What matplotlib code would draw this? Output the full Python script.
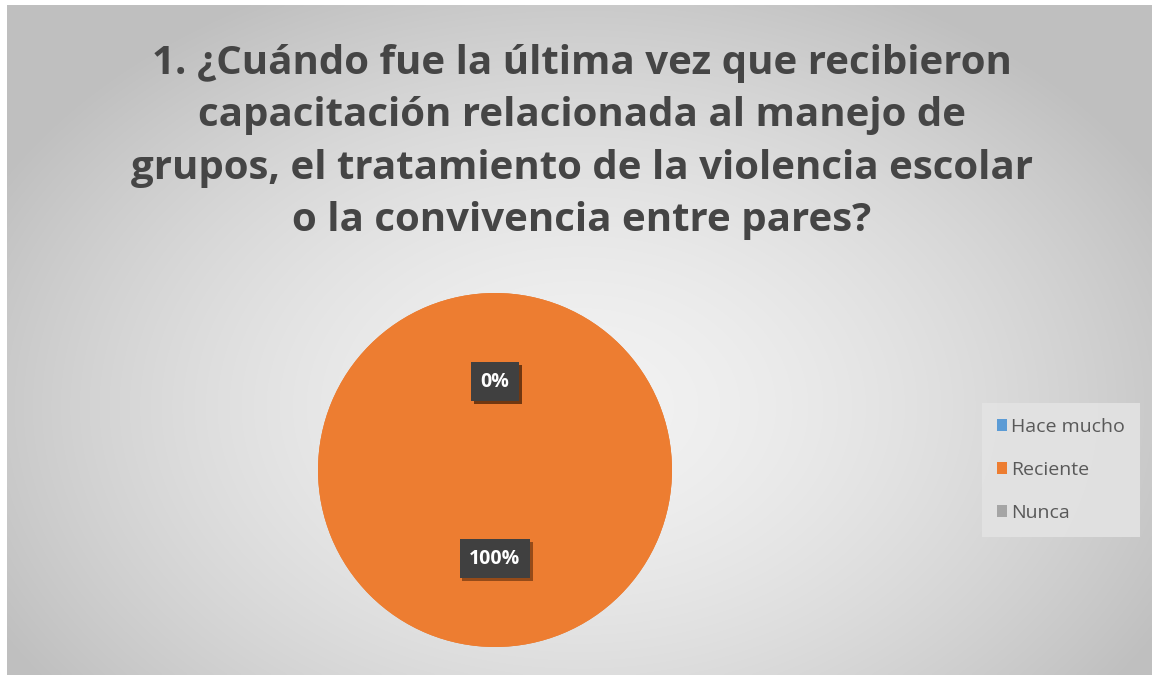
import numpy as np
import matplotlib
matplotlib.use("Agg")
import matplotlib.pyplot as plt
import matplotlib.patheffects as pe

title = "1. ¿Cuándo fue la última vez que recibieron\ncapacitación relacionada al manejo de\ngrupos, el tratamiento de la violencia escolar\no la convivencia entre pares?"
categories = ["Hace mucho", "Reciente", "Nunca"]
values = [0, 100, 0]
colors = ["#5B9BD5", "#ED7D31", "#A5A5A5"]

W, H = 1152, 675
fig = plt.figure(figsize=(W / 100, H / 100), dpi=100)
fig.patch.set_facecolor("white")

# background gradient
bg = fig.add_axes([7 / W, 0, 1 - 7 / W, 1 - 5 / H])
bg.set_axis_off()
yy, xx = np.mgrid[0:1:300j, 0:1:500j]
d = np.sqrt(((xx - 0.5) / 0.75) ** 2 + ((yy - 0.6) / 0.9) ** 2)
g = np.clip(0.95 - 0.30 * d ** 1.6, 0.75, 0.95)
img = np.dstack([g, g, g])
bg.imshow(img, aspect="auto", extent=[0, 1, 0, 1], origin="upper", interpolation="bicubic")
bg.set_xlim(0, 1)
bg.set_ylim(0, 1)

fig.text(582 / W, 1 - 142 / H, title, ha="center", va="center", fontsize=29,
         fontweight="bold", color="#454545", family="Open Sans", linespacing=1.45)

# pie
cx, cy, r = 495, 470, 177
ax = fig.add_axes([(cx - r) / W, 1 - (cy + r) / H, 2 * r / W, 2 * r / H])
wedges, texts, autotexts = ax.pie(
    values, colors=colors, startangle=90, counterclock=False,
    autopct=lambda p: f"{p:.0f}%", pctdistance=0.5,
    wedgeprops=dict(linewidth=0),
    textprops=dict(color="white", fontsize=14, fontweight="bold", family="Open Sans"),
)
for t in autotexts:
    t.set_bbox(dict(boxstyle="square,pad=0.5", facecolor="#404040", edgecolor="none",
                    path_effects=[pe.withSimplePatchShadow(offset=(2, -2), shadow_rgbFace="#5a2a0a", alpha=0.6)]))
ax.set_xlim(-1, 1)
ax.set_ylim(-1, 1)
ax.set_aspect("equal")
for w in wedges:
    w.set_path_effects([pe.withSimplePatchShadow(offset=(0, 0), shadow_rgbFace="#b0b0b0", alpha=0.3), pe.Normal()])

# legend
leg = fig.legend(wedges, categories, loc="upper left",
                 bbox_to_anchor=(982 / W, 1 - 403 / H), frameon=True, borderaxespad=0,
                 handlelength=0.55, handleheight=0.55,
                 handletextpad=0.2, labelspacing=1.3, borderpad=0.75,
                 prop=dict(family="Open Sans", size=14))
leg.get_frame().set_facecolor("#e3e3e3")
leg.get_frame().set_edgecolor("none")
leg.get_frame().set_alpha(0.9)
leg.get_frame().set_boxstyle("square", pad=0)
for t in leg.get_texts():
    t.set_color("#595959")

fig.savefig("out.png", dpi=100, facecolor="white")
